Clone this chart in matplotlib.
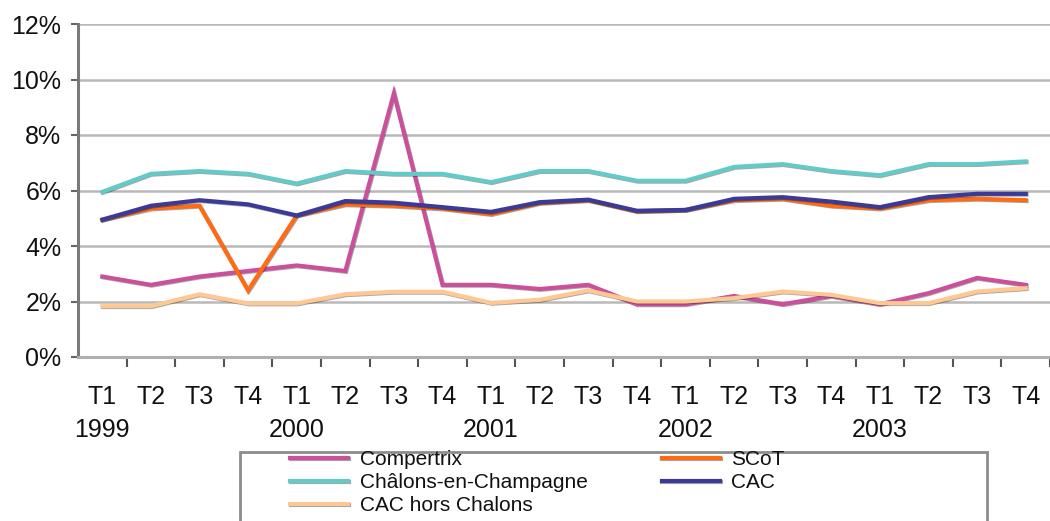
import matplotlib
matplotlib.use("Agg")
import matplotlib.pyplot as plt
import matplotlib.patheffects as pe
from matplotlib.patches import Rectangle
from matplotlib.ticker import FixedLocator, FuncFormatter

# Quarterly rates (%) from Q1 1999 to Q4 2003
quarters = ["T1", "T2", "T3", "T4"] * 5
years = ["1999", "2000", "2001", "2002", "2003"]

compertrix = [2.9, 2.6, 2.9, 3.1, 3.3, 3.1, 9.5, 2.6, 2.6, 2.45,
              2.6, 1.9, 1.9, 2.2, 1.9, 2.2, 1.9, 2.3, 2.85, 2.6]
scot = [4.95, 5.35, 5.45, 2.4, 5.1, 5.5, 5.45, 5.35, 5.15, 5.55,
        5.65, 5.25, 5.3, 5.65, 5.7, 5.45, 5.35, 5.65, 5.7, 5.65]
chalons = [5.95, 6.6, 6.7, 6.6, 6.25, 6.7, 6.6, 6.6, 6.3, 6.7,
           6.7, 6.35, 6.35, 6.85, 6.95, 6.7, 6.55, 6.95, 6.95, 7.05]
cac = [4.95, 5.45, 5.65, 5.5, 5.1, 5.62, 5.56, 5.4, 5.23, 5.58,
       5.67, 5.27, 5.3, 5.7, 5.76, 5.6, 5.4, 5.76, 5.88, 5.88]
cac_hors = [1.83, 1.83, 2.26, 1.93, 1.93, 2.26, 2.35, 2.35, 1.95, 2.06,
            2.4, 2.0, 2.0, 2.12, 2.36, 2.24, 1.94, 1.94, 2.36, 2.48]

series = [
    ("Compertrix", compertrix, "#cc4f9c"),
    ("SCoT", scot, "#ff6a12"),
    ("Châlons-en-Champagne", chalons, "#62cbc8"),
    ("CAC", cac, "#3b3a98"),
    ("CAC hors Chalons", cac_hors, "#ffc893"),
]

plt.rcParams["font.family"] = ["Liberation Sans", "DejaVu Sans"]

W, H = 1050, 521
fig = plt.figure(figsize=(W / 100, H / 100), dpi=100)
ax = fig.add_axes([78 / W, 1 - 357 / H, 972 / W, 333 / H])

x = list(range(len(quarters)))
handles = {}
shadow = [pe.SimpleLineShadow(offset=(0.6, -0.6), shadow_color="black", alpha=0.35),
          pe.Normal()]
for name, vals, col in series:
    (ln,) = ax.plot(x, vals, color=col, lw=3.0, solid_joinstyle="miter",
                    path_effects=shadow, zorder=3)
    handles[name] = ln

ax.set_xlim(-0.5, len(quarters) - 0.5)
ax.set_ylim(0, 12)

# y axis
ax.yaxis.set_major_locator(FixedLocator([0, 2, 4, 6, 8, 10, 12]))
ax.yaxis.set_major_formatter(FuncFormatter(lambda v, p: f"{v:.0f}%"))
ax.yaxis.grid(True, color="#b9b9b9", lw=1.8, zorder=1)
ax.tick_params(axis="y", length=5, width=1.5, color="#666666", pad=7,
               labelsize=18, labelcolor="#111111")

# x axis: labels at categories, ticks between categories
labels = []
for i, q in enumerate(quarters):
    labels.append(f"{q}\n{years[i // 4]}" if q == "T1" else f"{q}\n")
ax.set_xticks(x)
ax.set_xticklabels(labels, linespacing=1.5)
ax.tick_params(axis="x", which="major", length=0, pad=20, labelsize=18,
               labelcolor="#111111")
ax.set_xticks([i + 0.5 for i in range(len(quarters))], minor=True)
ax.tick_params(axis="x", which="minor", length=7, width=1.5, color="#555555")

for s in ("top", "right"):
    ax.spines[s].set_visible(False)
ax.spines["left"].set_color("#7a7a7a")
ax.spines["left"].set_linewidth(2.2)
ax.spines["bottom"].set_color("#b0b0b0")
ax.spines["bottom"].set_linewidth(2.2)

# legend box, running off the bottom edge of the figure
fig.patches.append(Rectangle((240 / W, -10 / H), (987 - 240) / W, (10 + H - 452) / H,
                             transform=fig.transFigure, fill=False,
                             edgecolor="#8c8c8c", lw=2.0, zorder=0))

order = ["Compertrix", "Châlons-en-Champagne", "CAC hors Chalons", "SCoT", "CAC"]
leg = fig.legend([handles[n] for n in order], order, ncol=2,
                 loc="upper left", bbox_to_anchor=(290 / W, 1 - 450 / H),
                 frameon=False, fontsize=15,
                 handlelength=2.8, handletextpad=0.55, columnspacing=3.55,
                 labelspacing=0.2, borderpad=0, borderaxespad=0)
for t in leg.get_texts():
    t.set_color("#111111")

fig.savefig("out.png", dpi=100)
